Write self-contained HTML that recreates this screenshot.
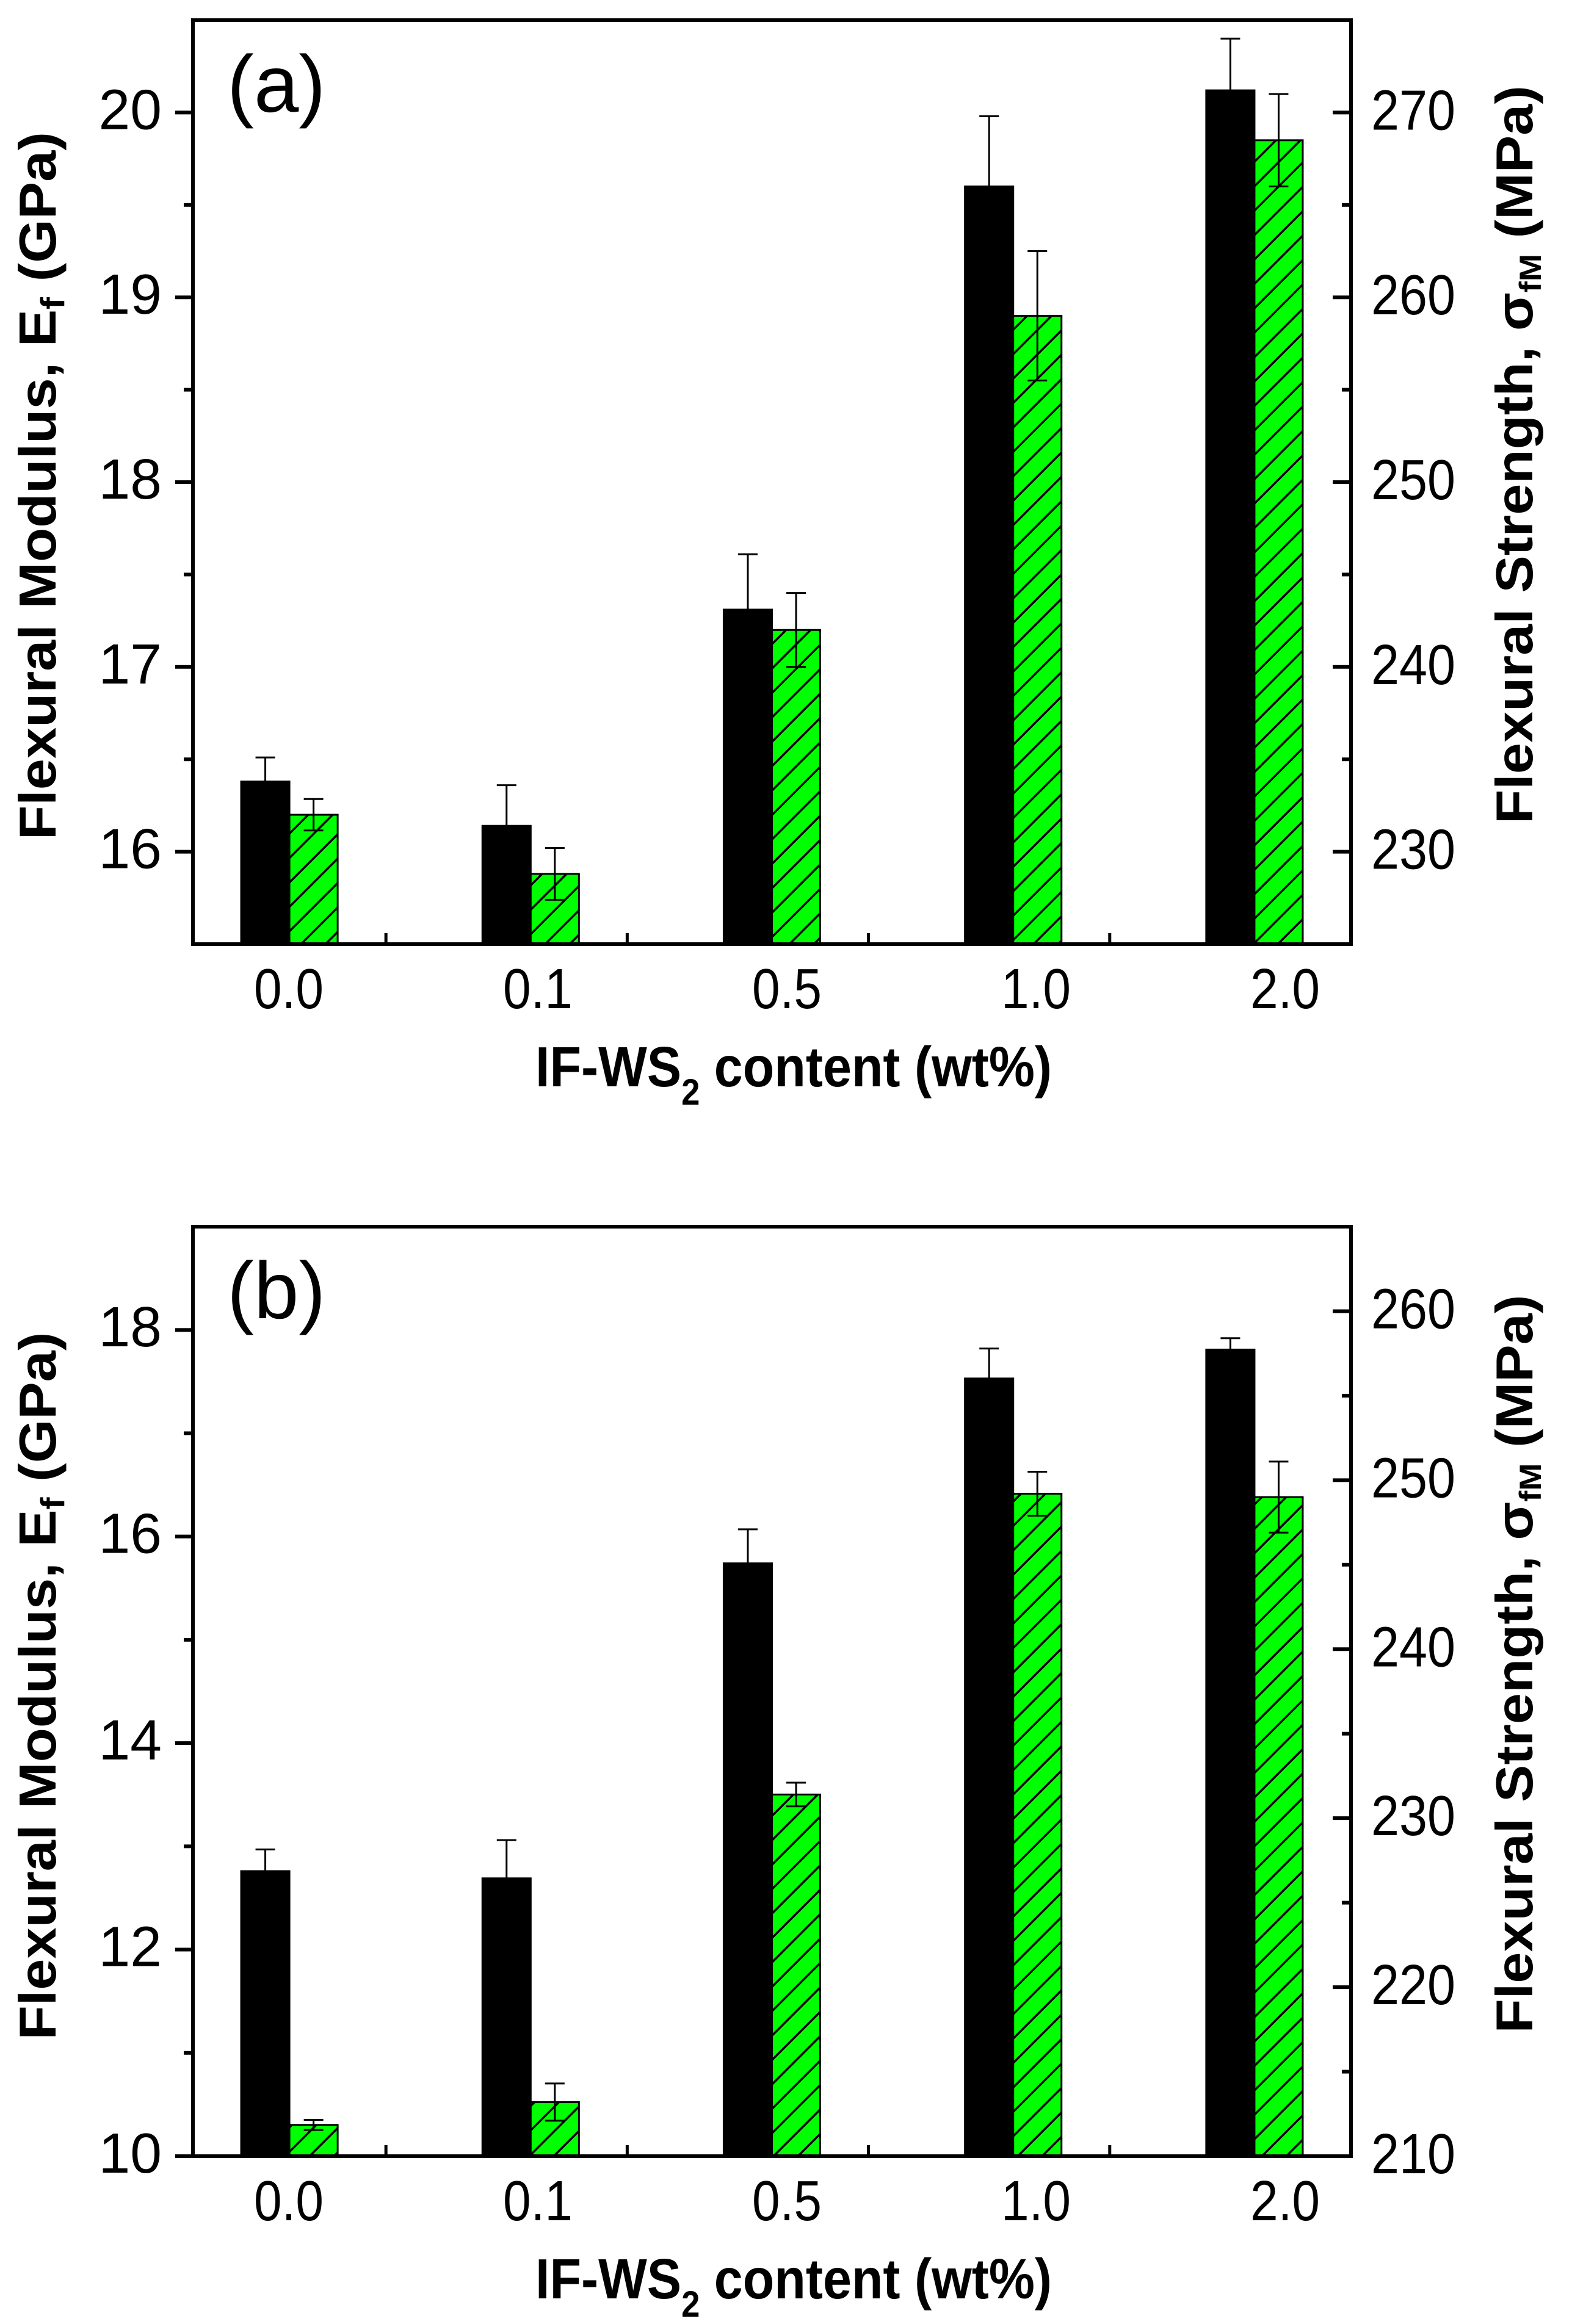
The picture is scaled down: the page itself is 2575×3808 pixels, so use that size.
<!DOCTYPE html>
<html><head><meta charset="utf-8"><style>
html,body{margin:0;padding:0;background:#fff;}
svg{display:block;}
text{font-family:"Liberation Sans",Arial,sans-serif;fill:#000;}
</style></head>
<body>
<svg id="chart" width="2575" height="3808" viewBox="0 0 2575 3808" xmlns="http://www.w3.org/2000/svg">
<defs>
<pattern id="hatch" patternUnits="userSpaceOnUse" width="40" height="40">
<rect width="40" height="40" fill="#00ff00"/>
<path d="M-10,10 L10,-10 M0,40 L40,0 M30,50 L50,30" stroke="#000" stroke-width="3.5"/>
</pattern>
</defs>
</svg>
<script>
// shared categories
const categories = ["0.0", "0.1", "0.5", "1.0", "2.0"];
// panel (a)
const modulusA = [16.38, 16.14, 17.31, 19.60, 20.12];
const modulusErrA = [0.13, 0.22, 0.30, 0.38, 0.28];
const strengthA = [232.0, 228.8, 242.0, 259.0, 268.5];
const strengthErrA = [0.85, 1.4, 2.0, 3.5, 2.5];
const leftTicksA = [16, 17, 18, 19, 20];
const rightTicksA = [230, 240, 250, 260, 270];
// panel (b)
const modulusB = [12.76, 12.69, 15.74, 17.53, 17.81];
const modulusErrB = [0.21, 0.37, 0.33, 0.29, 0.11];
const strengthB = [211.85, 213.2, 231.4, 249.2, 249.0];
const strengthErrB = [0.3, 1.1, 0.7, 1.3, 2.1];
const leftTicksB = [10, 12, 14, 16, 18];
const rightTicksB = [210, 220, 230, 240, 250, 260];

const svg = document.getElementById('chart');
const NS = 'http://www.w3.org/2000/svg';
function mk(tag, attrs, parent) {
  const e = document.createElementNS(NS, tag);
  for (const k in attrs) e.setAttribute(k, attrs[k]);
  (parent || svg).appendChild(e);
  return e;
}

function panel(opt) {
  const g = mk('g', {});
  
  
  const L = 316, R = 2213, T = opt.top, B = opt.bottom;
  const step = (R - L) / 4.8;
  const xC = i => L + step * (i + 0.4);
  const xLab = i => 473 + 408 * i;
  const yL = v => B - (v - opt.lmin) / (opt.lmax - opt.lmin) * (B - T);
  const yR = v => B - (v - opt.rmin) / (opt.rmax - opt.rmin) * (B - T);
  const bw = step * 0.2;

  categories.forEach((c, i) => {
    const cx = xC(i);
    const m = opt.mod[i], me = opt.modErr[i];
    const r1 = mk('rect', {x: cx - bw, y: yL(m), width: bw, height: B - yL(m), fill: '#000', stroke: '#000', 'stroke-width': 3}, g);
    
    
    const s = opt.str[i], se = opt.strErr[i];
    const r2 = mk('rect', {x: cx, y: yR(s), width: bw, height: B - yR(s), fill: 'url(#hatch)', stroke: '#000', 'stroke-width': 3}, g);
    
    
    const e1 = mk('path', {d: `M${cx - bw/2},${yL(m - me)} V${yL(m + me)} M${cx - bw/2 - 16},${yL(m + me)} h32 M${cx - bw/2 - 16},${yL(m - me)} h32`, stroke: '#000', 'stroke-width': 3, fill: 'none'}, g);
    
    
    const e2 = mk('path', {d: `M${cx + bw/2},${yR(s - se)} V${yR(s + se)} M${cx + bw/2 - 16},${yR(s + se)} h32 M${cx + bw/2 - 16},${yR(s - se)} h32`, stroke: '#000', 'stroke-width': 3, fill: 'none'}, g);
    
    
    const t = mk('text', {x: xLab(i), y: opt.bottom + 105, 'font-size': 93, 'text-anchor': 'middle', textLength: 114, lengthAdjust: 'spacingAndGlyphs'}, g);
    t.textContent = c;
    
    
    if (i < categories.length - 1) {
      const tk = mk('line', {x1: cx + step * 0.4, x2: cx + step * 0.4, y1: B, y2: B - 18, stroke: '#000', 'stroke-width': 5}, g);
      
      
    }
  });

  const fr = mk('rect', {x: L, y: T, width: R - L, height: B - T, fill: 'none', stroke: '#000', 'stroke-width': 6}, g);
  
  

  opt.lt.forEach((v, k) => {
    const y = yL(v);
    const tk = mk('line', {x1: L - 29, x2: L, y1: y, y2: y, stroke: '#000', 'stroke-width': 6}, g);
    
    
    const t = mk('text', {x: 265, y: y + 27, 'font-size': 93, 'text-anchor': 'end'}, g);
    t.textContent = v;
    
    
    const half = (opt.lt[1] - opt.lt[0]) / 2;
    [v - half, v + half].forEach(mv => {
      if (mv > opt.lmin && mv < opt.lmax && (k === 0 || mv > v)) {
        const mt = mk('line', {x1: L - 15, x2: L, y1: yL(mv), y2: yL(mv), stroke: '#000', 'stroke-width': 6}, g);
        
        
      }
    });
  });
  opt.rt.forEach((v, k) => {
    const y = yR(v);
    const tk = mk('line', {x1: R - 30, x2: R, y1: y, y2: y, stroke: '#000', 'stroke-width': 6}, g);
    
    
    const t = mk('text', {x: 2246, y: y + 28, 'font-size': 93, textLength: 138, lengthAdjust: 'spacingAndGlyphs'}, g);
    t.textContent = v;
    
    
    [v - 5, v + 5].forEach(mv => {
      if (mv > opt.rmin && mv < opt.rmax && (k === 0 || mv > v)) {
        const mt = mk('line', {x1: R - 15, x2: R, y1: yR(mv), y2: yR(mv), stroke: '#000', 'stroke-width': 6}, g);
        
        
      }
    });
  });

  const pl = mk('text', {x: 372, y: T + 150, 'font-size': 132}, g);
  pl.textContent = opt.label;
  
  

  const xt = mk('text', {x: 1300, y: B + 233, 'font-size': 93, 'font-weight': 'bold', 'text-anchor': 'middle', textLength: 846, lengthAdjust: 'spacingAndGlyphs'}, g);
  xt.innerHTML = 'IF-WS<tspan dy="30" font-size="60">2</tspan><tspan dy="-30"> content (wt%)</tspan>';
  
  

  const lcy = (T + B) / 2 + opt.lOff;
  const ly = mk('text', {x: 0, y: 0, 'font-size': 85, 'font-weight': 'bold', 'text-anchor': 'middle', textLength: 1160, lengthAdjust: 'spacingAndGlyphs', transform: `translate(91,${lcy}) rotate(-90)`}, g);
  ly.innerHTML = 'Flexural Modulus, E<tspan dy="14" font-size="55">f</tspan><tspan dy="-14"> (GPa)</tspan>';
  
  

  const rcy = (T + B) / 2 + opt.rOff;
  const ry = mk('text', {x: 0, y: 0, 'font-size': 85, 'font-weight': 'bold', 'text-anchor': 'middle', textLength: 1210, lengthAdjust: 'spacingAndGlyphs', transform: `translate(2510,${rcy}) rotate(-90)`}, g);
  ry.innerHTML = 'Flexural Strength, σ<tspan dy="14" font-size="50">fM</tspan><tspan dy="-14"> (MPa)</tspan>';
  
  
}

panel({name: 'panel-a', top: 33, bottom: 1547, lmin: 15.5, lmax: 20.5, rmin: 225, rmax: 275,
  mod: modulusA, modErr: modulusErrA, str: strengthA, strErr: strengthErrA,
  lt: leftTicksA, rt: rightTicksA, label: '(a)', lOff: 6, rOff: -45});
panel({name: 'panel-b', top: 2010, bottom: 3533, lmin: 10, lmax: 19, rmin: 210, rmax: 265,
  mod: modulusB, modErr: modulusErrB, str: strengthB, strErr: strengthErrB,
  lt: leftTicksB, rt: rightTicksB, label: '(b)', lOff: -9, rOff: -45});
</script>
</body></html>
